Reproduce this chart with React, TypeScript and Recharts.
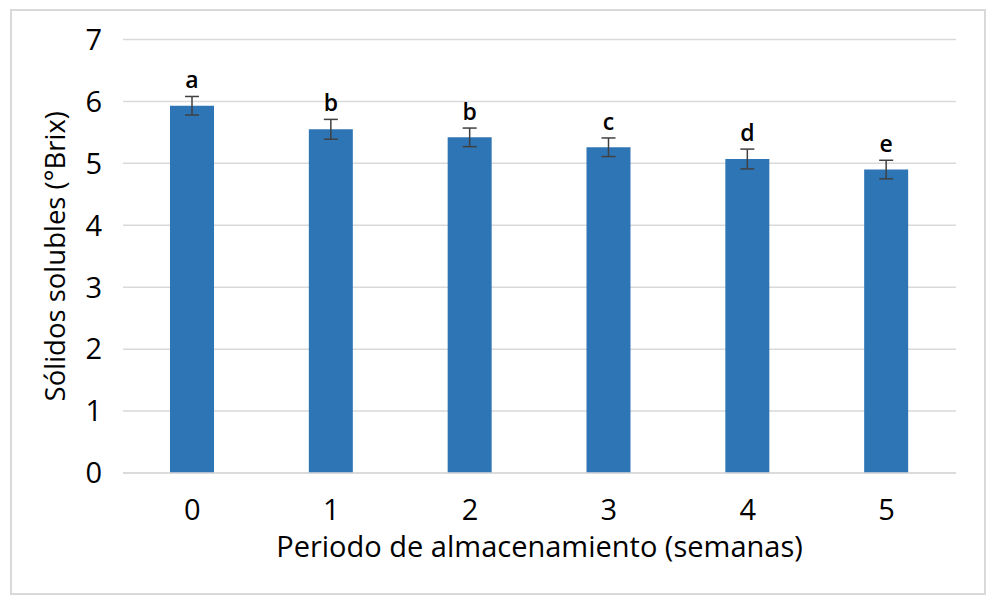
import {
  BarChart,
  Bar,
  XAxis,
  YAxis,
  CartesianGrid,
  ErrorBar,
  LabelList,
} from 'recharts';

const semanas = ['0', '1', '2', '3', '4', '5'];
const solidos = [5.93, 5.55, 5.42, 5.26, 5.07, 4.9];
const errores = [0.15, 0.16, 0.15, 0.15, 0.16, 0.15];
const letras = ['a', 'b', 'b', 'c', 'd', 'e'];
const ticksY = [0, 1, 2, 3, 4, 5, 6, 7];

const data = semanas.map((s, i) => ({
  semana: s,
  brix: solidos[i],
  err: errores[i],
}));

const fuente = '"Open Sans", sans-serif';

// letra de significancia encima de la barra de error
const renderLetra = (props: any) => {
  const { x, y, width, height, value, index } = props;
  const escala = height / value;
  const topeError = y - errores[index] * escala;
  return (
    <text
      x={x + width / 2}
      y={topeError - 8}
      textAnchor="middle"
      fontFamily={fuente}
      fontSize={23}
      fontWeight={600}
      fill="#000"
    >
      {letras[index]}
    </text>
  );
};

export default function App() {
  return (
    <div
      style={{
        position: 'absolute',
        left: 0,
        top: 0,
        width: 996,
        height: 605,
        background: '#fff',
      }}
    >
      <div
        style={{
          position: 'absolute',
          left: 10,
          top: 9,
          width: 972,
          height: 582,
          border: '2px solid #d9d9d9',
        }}
      />
      <BarChart
        width={996}
        height={605}
        data={data}
        margin={{ top: 39.5, right: 40, bottom: 0, left: 0 }}
        style={{ position: 'absolute', left: 0, top: 0 }}
      >
        <CartesianGrid stroke="#d9d9d9" strokeWidth={1.5} vertical={false} />
        <XAxis
          dataKey="semana"
          height={132}
          axisLine={{ stroke: '#d9d9d9', strokeWidth: 1.5 }}
          tickLine={false}
          tickSize={0}
          tickMargin={26}
          tick={{ fill: '#000', fontSize: 29, fontFamily: fuente }}
          label={{
            value: 'Periodo de almacenamiento (semanas)',
            position: 'insideBottom',
            offset: 48,
            style: { fill: '#000', fontSize: 29, fontFamily: fuente },
          }}
        />
        <YAxis
          width={123}
          domain={[0, 7]}
          ticks={ticksY}
          axisLine={false}
          tickLine={false}
          tickSize={0}
          tickMargin={21}
          tick={{ fill: '#000', fontSize: 29, fontFamily: fuente }}
          label={{
            value: 'Sólidos solubles (°Brix)',
            angle: -90,
            position: 'insideLeft',
            offset: 55,
            style: {
              fill: '#000',
              fontSize: 27.5,
              fontFamily: fuente,
              textAnchor: 'middle',
            },
          }}
        />
        <Bar dataKey="brix" fill="#2e75b6" barSize={44} isAnimationActive={false}>
          <ErrorBar
            dataKey="err"
            width={7}
            stroke="#404040"
            strokeWidth={1.5}
            isAnimationActive={false}
          />
          <LabelList dataKey="brix" content={renderLetra} />
        </Bar>
      </BarChart>
    </div>
  );
}
